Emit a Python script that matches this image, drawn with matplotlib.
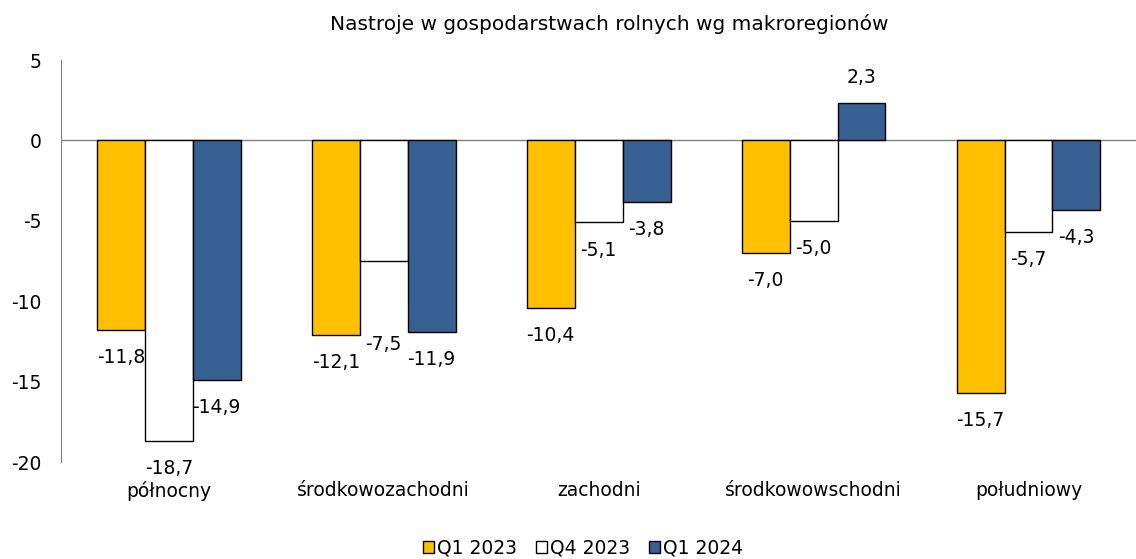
import numpy as np
from matplotlib import pyplot as plt
from matplotlib.patches import Patch

title = 'Nastroje w gospodarstwach rolnych wg makroregionów'
regions = ['północny', 'środkowozachodni', 'zachodni', 'środkowowschodni', 'południowy']
series_names = ['Q1 2023', 'Q4 2023', 'Q1 2024']
q1_2023 = [-11.8, -12.1, -10.4, -7.0, -15.7]
q4_2023 = [-18.7, -7.5, -5.1, -5.0, -5.7]
q1_2024 = [-14.9, -11.9, -3.8, 2.3, -4.3]

colors = ['#FFC000', '#FFFFFF', '#366092']
fs = 13.5

plt.rcParams['font.family'] = ['DejaVu Sans']
fig = plt.figure(figsize=(11.36, 5.59), dpi=100)
ax = fig.add_axes([0.054, 0.1735, 0.946, 0.719])

x = np.arange(len(regions))
w = 0.223
data = [q1_2023, q4_2023, q1_2024]
for i, vals in enumerate(data):
    pos = x + (i - 1) * w
    ax.bar(pos, vals, w, color=colors[i], edgecolor='black', linewidth=1.0, zorder=3)
    for j, (p, v) in enumerate(zip(pos, vals)):
        label = f'{v:.1f}'.replace('.', ',')
        if v >= 0:
            ax.annotate(label, (p, v), xytext=(0, 19), textcoords='offset points',
                        ha='center', va='center', fontsize=fs)
        else:
            off = -20
            # the -7,5 label sits lower in the original
            if i == 1 and j == 1:
                off = -60
            ax.annotate(label, (p, v), xytext=(0, off), textcoords='offset points',
                        ha='center', va='center', fontsize=fs)

ax.set_xlim(-0.5, len(regions) - 0.5)
ax.set_ylim(-20, 5)
ax.set_yticks([5, 0, -5, -10, -15, -20])
ax.set_yticklabels(['5', '0', '-5', '-10', '-15', '-20'], fontsize=fs)
ax.set_xticks(x)
ax.set_xticklabels(regions, fontsize=fs)
ax.tick_params(axis='both', length=0)
ax.tick_params(axis='y', pad=14)
ax.tick_params(axis='x', pad=14)
for s in ['top', 'right', 'bottom']:
    ax.spines[s].set_visible(False)
ax.spines['left'].set_color('#808080')
ax.axhline(0, color='#808080', linewidth=1.0, zorder=2)

ax.set_title(title, fontsize=14.5, pad=22, x=0.51)

handles = [Patch(facecolor=c, edgecolor='black', linewidth=1.0) for c in colors]
fig.legend(handles, series_names, loc='center', bbox_to_anchor=(0.513, 0.02), ncol=3,
           frameon=False, fontsize=fs, handlelength=0.6, handleheight=0.6,
           handletextpad=0.15, columnspacing=1.0)

fig.savefig('out.png', dpi=100)
